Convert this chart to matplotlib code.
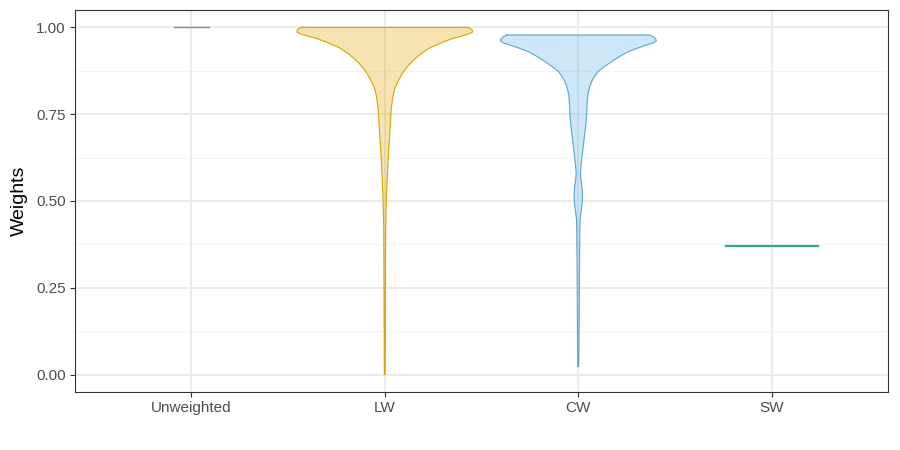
import matplotlib.pyplot as plt
import numpy as np

plt.rcParams['font.family'] = ['Liberation Sans', 'DejaVu Sans']

# 分组
groups = ['Unweighted', 'LW', 'CW', 'SW']
colors = ['#999999', '#E69F00', '#56B4E9', '#009E73']

# 小提琴轮廓：权重值 与 半宽
lw_y = [1.000, 0.998, 0.993, 0.986, 0.980, 0.975, 0.968, 0.955, 0.940, 0.925,
        0.911, 0.897, 0.882, 0.868, 0.853, 0.839, 0.825, 0.810, 0.796, 0.767,
        0.740, 0.710, 0.660, 0.612, 0.565, 0.517, 0.470, 0.420, 0.300, 0.150,
        0.000]
lw_w = [0.424, 0.440, 0.452, 0.453, 0.430, 0.400, 0.350, 0.290, 0.230, 0.190,
        0.160, 0.133, 0.110, 0.092, 0.077, 0.064, 0.053, 0.046, 0.041, 0.034,
        0.031, 0.028, 0.022, 0.017, 0.013, 0.009, 0.007, 0.005, 0.004, 0.003,
        0.002]

cw_y = [0.978, 0.972, 0.966, 0.961, 0.955, 0.945, 0.930, 0.915, 0.901, 0.887,
        0.873, 0.858, 0.844, 0.825, 0.805, 0.775, 0.748, 0.715, 0.684, 0.660,
        0.638, 0.615, 0.595, 0.580, 0.565, 0.545, 0.525, 0.503, 0.485, 0.465,
        0.445, 0.420, 0.300, 0.200, 0.100, 0.023]
cw_w = [0.369, 0.390, 0.400, 0.403, 0.385, 0.330, 0.257, 0.210, 0.171, 0.135,
        0.103, 0.083, 0.069, 0.057, 0.049, 0.045, 0.043, 0.038, 0.031, 0.026,
        0.021, 0.017, 0.013, 0.011, 0.013, 0.018, 0.021, 0.021, 0.018, 0.013,
        0.009, 0.008, 0.006, 0.005, 0.004, 0.002]

# 全部相同取值的组：只画一条水平线
unw_value, unw_half = 1.0, 0.09
sw_value, sw_half = 0.371, 0.236

fig = plt.figure(figsize=(9, 4.5), dpi=100)
ax = fig.add_axes([0.0833, 0.1289, 0.9034, 0.8489])

x_pos = np.arange(1, len(groups) + 1)

# 网格线（theme_bw 风格）
for yv in [0.125, 0.375, 0.625, 0.875]:
    ax.axhline(yv, color='#F4F4F4', linewidth=0.8, zorder=0)
for yv in [0, 0.25, 0.5, 0.75, 1.0]:
    ax.axhline(yv, color='#EBEBEB', linewidth=1.4, zorder=0)
for xv in x_pos:
    ax.axvline(xv, color='#EBEBEB', linewidth=1.4, zorder=0)

# Unweighted
ax.plot([x_pos[0] - unw_half, x_pos[0] + unw_half], [unw_value, unw_value],
        color='#8C8C8C', linewidth=1.0, zorder=3)


def draw_violin(xc, ys, ws, fill, edge):
    y = np.array(ys)
    w = np.array(ws)
    ax.fill_betweenx(y, xc - w, xc + w, facecolor=fill, alpha=0.3,
                     linewidth=0, zorder=2)
    ax.plot(np.concatenate([xc - w, (xc + w)[::-1], [xc - w[0]]]),
            np.concatenate([y, y[::-1], [y[0]]]), color=edge, linewidth=0.8,
            solid_joinstyle='round', zorder=3)


draw_violin(x_pos[1], lw_y, lw_w, colors[1], '#D9A300')
draw_violin(x_pos[2], cw_y, cw_w, colors[2], '#5BA3CC')

# SW
ax.plot([x_pos[3] - sw_half, x_pos[3] + sw_half], [sw_value, sw_value],
        color='#3AA58A', linewidth=1.6, zorder=3)

# 坐标轴
ax.set_xlim(0.4, 4.6)
ax.set_ylim(-0.05, 1.05)
ax.set_xticks(x_pos)
ax.set_xticklabels(groups)
ax.set_yticks([0, 0.25, 0.5, 0.75, 1.0])
ax.set_yticklabels(['0.00', '0.25', '0.50', '0.75', '1.00'])
ax.tick_params(axis='both', labelsize=11, labelcolor='#4D4D4D', color='#333333',
               length=3.5, width=0.8, pad=3)
ax.set_ylabel('Weights', fontsize=14, color='black', labelpad=6)

for sp in ax.spines.values():
    sp.set_color('#333333')
    sp.set_linewidth(0.8)

plt.savefig('out.png', dpi=100)
